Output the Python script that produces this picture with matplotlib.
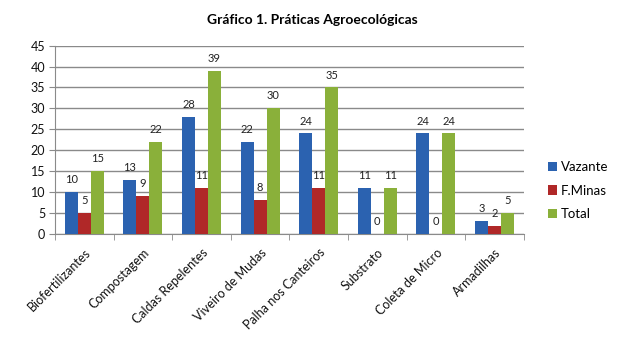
import matplotlib
matplotlib.use("Agg")
import matplotlib.pyplot as plt
import numpy as np

plt.rcParams['font.family'] = ['Lato', 'DejaVu Sans']

categories = ["Biofertilizantes", "Compostagem", "Caldas Repelentes", "Viveiro de Mudas",
              "Palha nos Canteiros", "Substrato", "Coleta de Micro", "Armadilhas"]
vazante = [10, 13, 28, 22, 24, 11, 24, 3]
fminas = [5, 9, 11, 8, 11, 0, 0, 2]
total = [15, 22, 39, 30, 35, 11, 24, 5]
series_names = ["Vazante", "F.Minas", "Total"]
colors = ["#2B62B0", "#B02828", "#8AB03A"]

fig = plt.figure(figsize=(6.25, 3.38), dpi=100)
ax = fig.add_axes([0.088, 0.308, 0.75, 0.557])

x = np.arange(len(categories))
w = 0.222
for i, (vals, name, c) in enumerate(zip([vazante, fminas, total], series_names, colors)):
    pos = x + (i - 1) * w
    ax.bar(pos, vals, width=w, color=c, label=name, zorder=3)
    for p, v in zip(pos, vals):
        ax.annotate(str(v), (p, v), xytext=(0, 5), textcoords='offset points',
                    ha='center', va='bottom', fontsize=8, color='#222222')

ax.set_xlim(-0.5, len(categories) - 0.5)
ax.set_ylim(0, 45)
ax.set_yticks(np.arange(0, 46, 5))
ax.yaxis.grid(True, color='#8a8a8a', linewidth=1, zorder=0)
ax.set_axisbelow(True)
for s in ['top', 'right']:
    ax.spines[s].set_visible(False)
for s in ['left', 'bottom']:
    ax.spines[s].set_color('#8a8a8a')
ax.tick_params(axis='y', length=4, color='#8a8a8a', labelsize=9, labelcolor='#111111', pad=3)

ax.set_xticks(x)
ax.set_xticklabels(categories, rotation=45, ha='right', rotation_mode='anchor', fontsize=9,
                   color='#111111')
ax.tick_params(axis='x', which='major', length=0, pad=9)
ax.set_xticks(np.arange(-0.5, len(categories), 1), minor=True)
ax.tick_params(axis='x', which='minor', length=4, color='#8a8a8a')

fig.text(0.5, 0.94, "Gráfico 1. Práticas Agroecológicas", ha='center', va='center',
         fontsize=10, fontweight='bold')

leg = ax.legend(loc='center left', bbox_to_anchor=(1.04, 0.23), frameon=False, fontsize=9.5,
                handlelength=0.7, handleheight=0.7, handletextpad=0.3, labelspacing=0.85,
                borderaxespad=0)

fig.savefig("out.png", dpi=100)
